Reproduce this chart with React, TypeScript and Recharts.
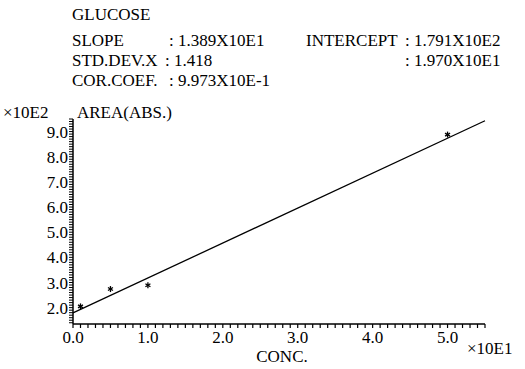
import React from "react";
import { ScatterChart, Scatter, XAxis, YAxis, ReferenceLine } from "recharts";

// data in axis units: conc x10E1, area x10E2
const concentration = [0.1, 0.5, 1.0, 5.0];
const area = [2.05, 2.74, 2.89, 8.88];
const xTickLabels = ["0.0", "1.0", "2.0", "3.0", "4.0", "5.0"];
const yTickLabels = ["2.0", "3.0", "4.0", "5.0", "6.0", "7.0", "8.0", "9.0"];
const SLOPE = 1.389; // 1.389X10E1 in axis units
const INTERCEPT = 1.791; // 1.791X10E2 in axis units
const X_MAX = 5.5;
const Y_MIN = 1.35;
const Y_MAX = 9.5;

const points = concentration.map((c, i) => ({ x: c, y: area[i] }));

const xMinor: number[] = [];
for (let i = 0; i <= 55; i++) xMinor.push(i / 10);
const yMinor: number[] = [];
for (let i = 14; i <= 95; i++) yMinor.push(i / 10);

const FONT = "Liberation Serif";
const TIMES = "\u00d7";

const labelFor = (list: string[]) => (v: number) =>
  list.find((t) => Math.abs(parseFloat(t) - v) < 1e-6) || "";

function Star(props: any) {
  const { cx, cy } = props;
  const r = 2.5;
  return (
    <g stroke="#000" strokeWidth={1.3}>
      <line x1={cx} x2={cx} y1={cy - r - 0.5} y2={cy + r + 0.5} />
      <line x1={cx - r} x2={cx + r} y1={cy - r + 1} y2={cy + r - 1} />
      <line x1={cx - r} x2={cx + r} y1={cy + r - 1} y2={cy - r + 1} />
    </g>
  );
}

const header: [string, number, number][] = [
  ["GLUCOSE", 72, 20],
  ["SLOPE", 72, 46],
  [": 1.389X10E1", 169, 46],
  ["INTERCEPT", 306, 46],
  [": 1.791X10E2", 405, 46],
  ["STD.DEV.X", 72, 66],
  [": 1.418", 165, 66],
  [": 1.970X10E1", 405, 66],
  ["COR.COEF.", 72, 86],
  [": 9.973X10E-1", 169, 86],
  [TIMES + "10E2", 3, 118],
  ["AREA(ABS.)", 77, 118],
  [TIMES + "10E1", 467, 354],
];

export default function App() {
  const tickFont = { fontFamily: FONT, fontSize: 17, fill: "#000" };
  return (
    <div style={{ position: "absolute", left: 0, top: 0, width: 525, height: 369 }}>
      <ScatterChart width={525} height={369} margin={{ top: 119, right: 40, bottom: 15, left: 13 }}>
        <XAxis
          type="number"
          dataKey="x"
          domain={[0, X_MAX]}
          ticks={xMinor}
          interval={0}
          tick={tickFont}
          tickFormatter={labelFor(xTickLabels)}
          tickLine={{ stroke: "#000", strokeWidth: 1.2 }}
          tickSize={4}
          tickMargin={3}
          height={30}
          axisLine={{ stroke: "#000", strokeWidth: 1.5 }}
          allowDataOverflow
        />
        <YAxis
          type="number"
          dataKey="y"
          domain={[Y_MIN, Y_MAX]}
          ticks={yMinor}
          interval={0}
          tick={tickFont}
          tickFormatter={labelFor(yTickLabels)}
          tickLine={{ stroke: "#000", strokeWidth: 1 }}
          tickSize={4}
          tickMargin={1}
          width={60}
          axisLine={{ stroke: "#000", strokeWidth: 1.5 }}
          allowDataOverflow
        />
        <ReferenceLine
          segment={[
            { x: 0, y: INTERCEPT },
            { x: X_MAX, y: INTERCEPT + SLOPE * X_MAX },
          ]}
          stroke="#000"
          strokeWidth={1.3}
        />
        <Scatter data={points} shape={<Star />} isAnimationActive={false} />
      </ScatterChart>
      <svg width={525} height={369} style={{ position: "absolute", left: 0, top: 0 }}>
        {header.map(([s, x, y], i) => (
          <text key={i} x={x} y={y} fontSize={17} fontFamily={FONT} fill="#000">
            {s}
          </text>
        ))}
        <text x={282} y={362} textAnchor="middle" fontSize={17} fontFamily={FONT} fill="#000">
          CONC.
        </text>
      </svg>
    </div>
  );
}
